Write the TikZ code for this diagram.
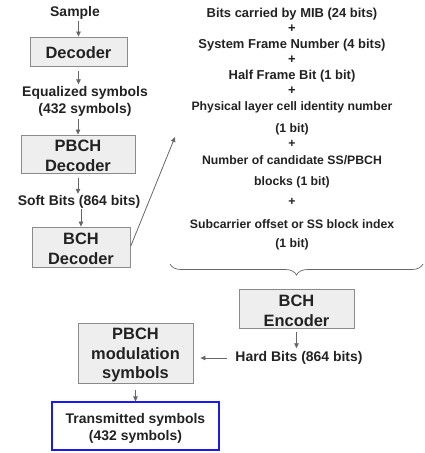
\documentclass[tikz,border=0pt]{standalone}
\usepackage{fontspec}
\setmainfont{Liberation Sans}
\usetikzlibrary{arrows.meta,decorations.pathreplacing}
\definecolor{boxfill}{HTML}{EEEEEE}
\definecolor{boxline}{HTML}{8A8A8A}
\definecolor{arr}{HTML}{666666}
\definecolor{txt}{HTML}{222222}
\definecolor{blu}{HTML}{1A1AF0}
\newcommand{\topstrut}[1]{\rule{0pt}{#1}}
\begin{document}
\begin{tikzpicture}[x=1bp,y=-1bp,
  blk/.style={draw=boxline, fill=boxfill, line width=0.8bp, inner sep=0, align=center, font=\bfseries\fontsize{16.5}{20}\selectfont, text=txt},
  lbl/.style={inner sep=0, align=center, font=\bfseries\fontsize{14}{17}\selectfont, text=txt},
  rt/.style={inner sep=0, font=\bfseries\fontsize{13}{15}\selectfont, text=txt},
  rs/.style={inner sep=0, font=\bfseries\fontsize{12.3}{15}\selectfont, text=txt},
  ar/.style={draw=arr, line width=0.8bp, -{Triangle[length=5bp,width=4.5bp]}},
]
\useasboundingbox (0,0) rectangle (424,453);
% left column
\node[lbl] (smp) at (75,12.5) {Sample};
\node[blk, minimum width=97bp, minimum height=29bp] (dec) at (78.5,51.5) {\topstrut{13.5bp}Decoder};
\node[lbl] (eq) at (85,101.5) {Equalized symbols\\(432 symbols)};
\node[blk, minimum width=114bp, minimum height=38bp] (pd) at (78,154) {\topstrut{15.5bp}PBCH\\Decoder};
\node[lbl] (sb) at (79,201.5) {Soft Bits (864 bits)};
\node[blk, minimum width=98bp, minimum height=40bp] (bd) at (81,247) {\topstrut{15.5bp}BCH\\Decoder};
% right text
\node[rt] (r1) at (292,14) {Bits carried by MIB (24 bits)};
\node[rt] (p1) at (292,29) {+};
\node[rt] (r2) at (292,45) {System Frame Number (4 bits)};
\node[rt] (p2) at (292,60) {+};
\node[rt] (r3) at (292,76) {Half Frame Bit (1 bit)};
\node[rt] (p3) at (292,91) {+};
\node[rs] (r4) at (292,107) {Physical layer cell identity number};
\node[rs] (r5) at (292,129) {(1 bit)};
\node[rs] (p4) at (292,144) {+};
\node[rs] (r6) at (292,160) {Number of candidate SS/PBCH};
\node[rs] (r7) at (292,182) {blocks (1 bit)};
\node[rs] (p5) at (292,202) {+};
\node[rs] (r8) at (292,224) {Subcarrier offset or SS block index};
\node[rs] (r9) at (292,244) {(1 bit)};
\coordinate (tgt) at (175,137);
\coordinate (bl) at (170,264);
\coordinate (br) at (423,264);
\draw[arr, line width=0.7bp, decorate, decoration={brace, mirror, amplitude=11bp}] (bl) -- (br);
% lower part
\node[blk, minimum width=115bp, minimum height=39bp] (be) at (296.5,308.5) {\topstrut{15.5bp}BCH\\Encoder};
\node[lbl] (hb) at (299,358) {Hard Bits (864 bits)};
\node[blk, minimum width=115bp, minimum height=60bp] (pm) at (135.5,353) {\topstrut{15.5bp}PBCH\\modulation\\symbols};
\node[lbl, draw=blu, line width=1.2bp, minimum width=167bp, minimum height=48bp] (tx) at (135.5,426) {\topstrut{15bp}Transmitted symbols\\(432 symbols)};
% arrows
\draw[ar, shorten <=2bp] (dec.north |- smp.south) -- (dec.north);
\draw[ar, shorten <=5bp, shorten >=2bp] (dec.south) -- (dec.south |- eq.north);
\draw[ar, shorten <=2bp] (pd.north |- eq.south) -- (pd.north);
\draw[ar, shorten <=5bp, shorten >=1bp] (pd.south) -- (pd.south |- sb.north);
\draw[ar, shorten <=1bp] (bd.north |- sb.south) -- (bd.north);
\draw[ar, shorten <=1bp] (bd.east) -- (tgt);
\draw[ar, shorten <=4bp, shorten >=3bp] (be.south) -- (be.south |- hb.north);
\draw[ar, shorten <=8bp, shorten >=7bp] (hb.west) -- (pm.east |- hb.west);
\draw[ar, shorten <=7bp] (pm.south) -- (tx.north);
\end{tikzpicture}
\end{document}
